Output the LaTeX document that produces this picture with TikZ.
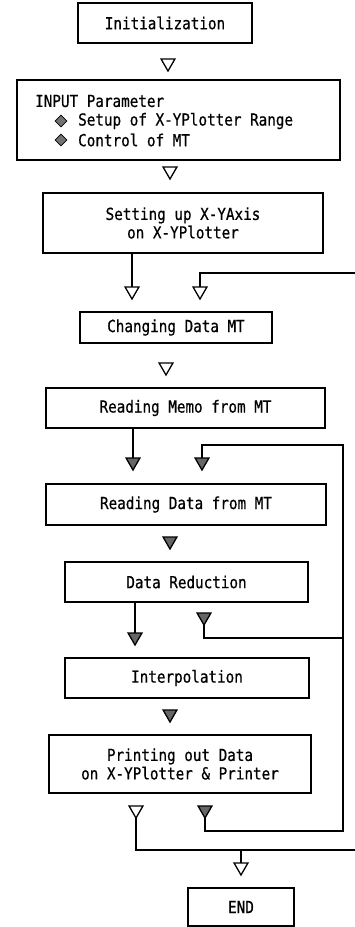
\documentclass[tikz,border=0pt]{standalone}
\usepackage{fontspec}
\setmainfont[FakeStretch=0.86,FakeBold=0.6]{DejaVu Sans Mono}
\usetikzlibrary{shapes.geometric}

\begin{document}
\begin{tikzpicture}[x=1pt,y=-1pt,
  every node/.style={font=\fontsize{16.6}{18.5}\selectfont},
  stepbox/.style={draw, line width=1.6pt, inner sep=0pt, outer sep=0pt, align=center},
  tri/.style={draw, line width=1.3pt, regular polygon, regular polygon sides=3,
    shape border rotate=180, minimum size=16pt, inner sep=0pt, outer sep=0pt},
  opentri/.style={tri, fill=white},
  solidtri/.style={tri, fill=black!60},
  link/.style={line width=1.6pt},
  bullet/.style={draw, diamond, fill=black!55, line width=0.8pt, minimum size=12pt, inner sep=0pt},
  label/.style={inner sep=0pt, anchor=west}
]
\useasboundingbox (0,0) rectangle (355,927);

% process boxes
\node[stepbox, minimum width=174pt, minimum height=40pt] (init) at (165,23) {Initialization};
\node[stepbox, minimum width=323pt, minimum height=80pt] (inp) at (178.5,120) {};
\node[label] (inptitle) at (35,101) {INPUT Parameter};
\node[bullet] (b1) at (61,121) {};
\node[label] (inp1) at (78,121) {Setup of X-YPlotter Range};
\node[bullet] (b2) at (61,140) {};
\node[label] (inp2) at (78,140) {Control of MT};
\node[stepbox, minimum width=280pt, minimum height=60pt] (axis) at (183,223) {Setting up X-YAxis\\on X-YPlotter};
\node[stepbox, minimum width=192pt, minimum height=31pt] (chg) at (176,327.5) {Changing Data MT};
\node[stepbox, minimum width=279pt, minimum height=40pt] (memo) at (185.5,408) {Reading Memo from MT};
\node[stepbox, minimum width=280pt, minimum height=41pt] (read) at (186,504.5) {Reading Data from MT};
\node[stepbox, minimum width=243pt, minimum height=40pt] (red) at (186.5,582) {Data Reduction};
\node[stepbox, minimum width=244pt, minimum height=40pt] (interp) at (187,678) {Interpolation};
\node[stepbox, minimum width=262pt, minimum height=58pt] (print) at (180,764) {Printing out Data\\on X-YPlotter \& Printer};
\node[stepbox, minimum width=106pt, minimum height=38pt] (end) at (241,907) {END};

% connectors
\coordinate (e1) at (355,273);
\coordinate (c1) at (343,445);
\coordinate (c2) at (343,831);
\coordinate (c3) at (343,638);
\coordinate (e2) at (355,850);

\node[opentri] (t1) at (168,63) {};
\node[opentri] (t2) at (170,171) {};
\node[opentri] (t3a) at (132,291) {};
\node[opentri] (t3b) at (200,291) {};
\node[opentri] (t4) at (166,367) {};
\node[solidtri] (t5a) at (133,462) {};
\node[solidtri] (t5b) at (202,462) {};
\node[solidtri] (t6) at (170,541) {};
\node[solidtri] (t7a) at (135,637) {};
\node[solidtri] (t7b) at (204,617) {};
\node[solidtri] (t8) at (170,714) {};
\node[opentri] (t9a) at (136,810) {};
\node[solidtri] (t9b) at (205,810) {};
\node[opentri] (t10) at (241,867) {};

\draw[link] (axis.south -| t3a) -- (t3a.north);
\draw[link] (t3b.north) -- (t3b.north |- e1) -- (e1);
\draw[link] (memo.south -| t5a) -- (t5a.north);
\draw[link] (t5b.north) -- (t5b.north |- c1) -- (c1) -- (c2) -- (t9b.south |- c2) -- (t9b.south);
\draw[link] (red.south -| t7a) -- (t7a.north);
\draw[link] (t7b.south) -- (t7b.south |- c3) -- (c3);
\draw[link] (t9a.south) -- (t9a.south |- e2) -- (e2);
\draw[link] (t10.north |- e2) -- (t10.north);
\end{tikzpicture}
\end{document}
